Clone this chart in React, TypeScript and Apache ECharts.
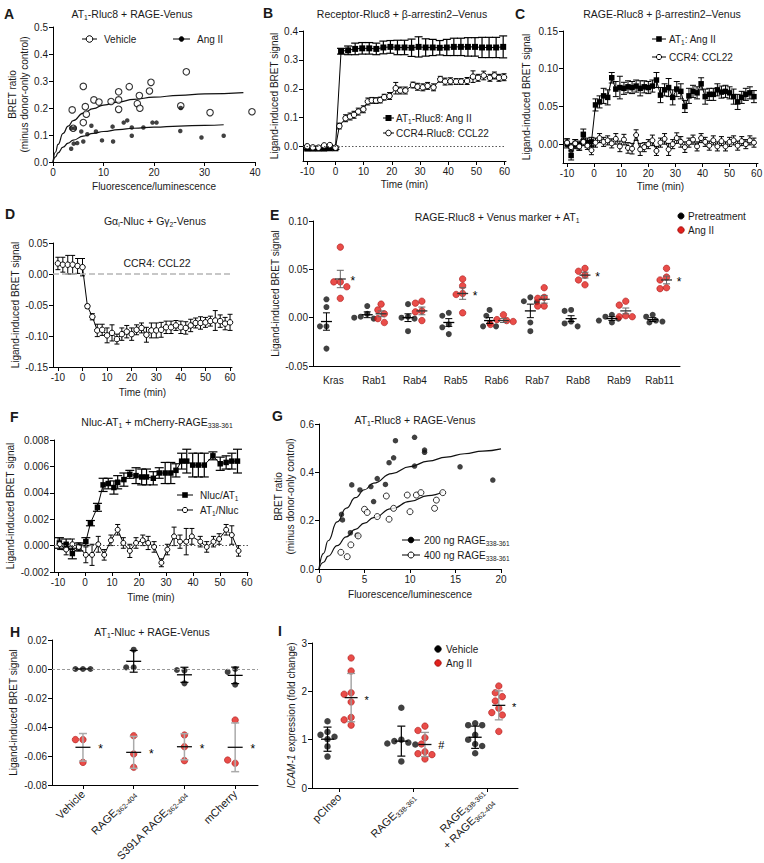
import React, { useEffect, useRef } from "react";
import * as echarts from "echarts";

const FONT = '"Liberation Sans", Arial, Helvetica, sans-serif';
const TXT = "#1a1a1a";
const RED = "#e3211c";
const RED_EDGE = "#a50f0f";

// ---------------- Panel A ----------------
const aVehicleX = [3.8, 4.0, 6.0, 6.0, 6.4, 6.6, 8.1, 9.1, 11.5, 13.0, 13.0, 13.0, 15.1, 16.7, 17.1, 17.2, 19.1, 19.4, 25.3, 26.4, 31.1, 39.4];
const aVehicleY = [0.193, 0.125, 0.28, 0.146, 0.205, 0.177, 0.23, 0.222, 0.224, 0.26, 0.23, 0.195, 0.279, 0.216, 0.246, 0.199, 0.263, 0.295, 0.208, 0.334, 0.183, 0.186];
const aAngX = [3.6, 3.6, 4.3, 4.1, 4.8, 5.6, 6.0, 6.8, 7.6, 8.5, 9.7, 11.8, 11.9, 14.0, 14.7, 15.6, 15.6, 17.9, 19.7, 20.5, 25.2, 25.3, 29.4, 33.8];
const aAngY = [0.049, 0.125, 0.125, 0.068, 0.07, 0.113, 0.076, 0.103, 0.134, 0.113, 0.08, 0.131, 0.076, 0.146, 0.154, 0.128, 0.097, 0.128, 0.146, 0.146, 0.115, 0.2, 0.091, 0.097];
const aVehicleFitX = [0, 0.5, 1, 2, 3, 4, 6, 8, 10, 13, 16, 20, 25, 30, 37.7];
const aVehicleFitY = [0, 0.037, 0.065, 0.106, 0.133, 0.153, 0.181, 0.198, 0.211, 0.223, 0.232, 0.24, 0.247, 0.252, 0.257];
const aAngFitX = [0, 0.5, 1, 2, 3, 4, 6, 8, 10, 13, 16, 20, 25, 30, 33.8];
const aAngFitY = [0, 0.019, 0.034, 0.055, 0.07, 0.081, 0.096, 0.106, 0.113, 0.12, 0.125, 0.129, 0.133, 0.136, 0.138];

// ---------------- Panel B ----------------
const bAtT = [-10, -8, -6, -4, -2, 0, 2, 4.5, 7, 9.5, 12, 14.5, 17, 19.5, 22, 24.5, 27, 29.5, 32, 34.5, 37, 39.5, 42, 44.5, 47, 49.5, 52, 54.5, 57, 59.5];
const bAtV = [-0.007, -0.007, -0.007, -0.007, -0.006, -0.006, 0.33, 0.333, 0.338, 0.34, 0.34, 0.338, 0.343, 0.345, 0.343, 0.343, 0.342, 0.345, 0.343, 0.343, 0.342, 0.343, 0.345, 0.345, 0.345, 0.345, 0.343, 0.343, 0.343, 0.345];
const bAtE = [0.004, 0.004, 0.004, 0.004, 0.004, 0.004, 0.01, 0.015, 0.02, 0.02, 0.02, 0.02, 0.022, 0.022, 0.025, 0.025, 0.03, 0.035, 0.03, 0.028, 0.025, 0.028, 0.03, 0.03, 0.032, 0.032, 0.035, 0.035, 0.035, 0.038];
const bCcT = [-10, -8, -6, -4, -2, 0, 1.4, 3.6, 5.2, 6.6, 8.1, 9.9, 11.5, 12.9, 14.4, 15.9, 17.3, 19.2, 21.4, 23.0, 24.8, 27.5, 29.1, 31.0, 32.7, 34.8, 37.2, 38.9, 40.8, 42.8, 44.6, 46.7, 48.8, 50.6, 52.6, 54.8, 56.4, 58.0, 59.8];
const bCcV = [0.001, -0.003, -0.004, 0.004, 0.005, -0.004, 0.071, 0.098, 0.104, 0.11, 0.121, 0.129, 0.156, 0.16, 0.159, 0.161, 0.171, 0.175, 0.202, 0.194, 0.194, 0.213, 0.207, 0.205, 0.21, 0.205, 0.233, 0.225, 0.226, 0.225, 0.225, 0.227, 0.242, 0.238, 0.246, 0.238, 0.246, 0.238, 0.24];
const bCcE = [0.004, 0.004, 0.004, 0.004, 0.004, 0.004, 0.01, 0.012, 0.012, 0.012, 0.012, 0.012, 0.012, 0.01, 0.01, 0.01, 0.01, 0.012, 0.02, 0.012, 0.012, 0.01, 0.012, 0.012, 0.012, 0.012, 0.01, 0.012, 0.012, 0.01, 0.01, 0.012, 0.02, 0.012, 0.015, 0.012, 0.012, 0.012, 0.012];

// ---------------- Panel C ----------------
const cT = [-10, -8.5, -7, -5.5, -4, -2.5, -1, 0.5, 2, 3.5, 5, 6.5, 8, 9.5, 11, 12.5, 14, 15.5, 17, 18.5, 20, 21.5, 23, 24.5, 26, 27.5, 29, 30.5, 32, 33.5, 35, 36.5, 38, 39.5, 41, 42.5, 44, 45.5, 47, 48.5, 50, 51.5, 53, 54.5, 56, 57.5, 59];
const cAtV = [0.001, -0.015, 0.0, -0.002, 0.013, 0.002, 0.003, 0.052, 0.056, 0.064, 0.062, 0.088, 0.073, 0.075, 0.074, 0.076, 0.075, 0.077, 0.074, 0.076, 0.075, 0.077, 0.085, 0.065, 0.072, 0.075, 0.062, 0.073, 0.07, 0.05, 0.064, 0.07, 0.068, 0.08, 0.063, 0.066, 0.066, 0.072, 0.069, 0.07, 0.068, 0.063, 0.056, 0.062, 0.066, 0.068, 0.063];
const cAtE = [0.006, 0.006, 0.006, 0.006, 0.007, 0.006, 0.006, 0.008, 0.008, 0.01, 0.01, 0.007, 0.01, 0.015, 0.008, 0.008, 0.008, 0.008, 0.01, 0.008, 0.008, 0.008, 0.01, 0.01, 0.008, 0.012, 0.01, 0.01, 0.01, 0.008, 0.01, 0.008, 0.008, 0.008, 0.01, 0.008, 0.008, 0.008, 0.008, 0.008, 0.008, 0.01, 0.01, 0.008, 0.008, 0.008, 0.008];
const cCcV = [0.002, -0.004, 0.001, -0.003, 0.003, -0.002, -0.008, 0.002, 0.008, 0.003, 0.005, 0.001, 0.007, -0.003, 0.006, -0.005, -0.006, 0.012, -0.007, -0.004, 0.0, 0.005, -0.009, 0.002, 0.007, -0.007, 0.0, 0.008, 0.003, -0.004, 0.002, 0.006, -0.003, 0.008, 0.003, -0.002, 0.005, -0.003, 0.004, -0.003, 0.003, 0.005, -0.002, 0.004, 0.0, 0.005, 0.002];
const cCcE = [0.005, 0.005, 0.005, 0.005, 0.005, 0.005, 0.006, 0.006, 0.006, 0.006, 0.006, 0.006, 0.007, 0.007, 0.007, 0.007, 0.007, 0.007, 0.008, 0.006, 0.006, 0.007, 0.006, 0.006, 0.007, 0.008, 0.006, 0.007, 0.007, 0.007, 0.006, 0.006, 0.006, 0.006, 0.006, 0.006, 0.006, 0.006, 0.006, 0.006, 0.006, 0.006, 0.006, 0.006, 0.006, 0.006, 0.006];

// ---------------- Panel D ----------------
const dT = [-10, -8, -6, -4, -2, 0, 2, 4, 6, 8, 10, 12, 14, 16, 18, 20, 22, 24, 26, 28, 30, 32, 34, 36, 38, 40, 42, 44, 46, 48, 50, 52, 54, 56, 58, 60];
const dV = [0.017, 0.015, 0.015, 0.015, 0.013, 0.011, -0.052, -0.069, -0.091, -0.09, -0.099, -0.095, -0.105, -0.097, -0.093, -0.097, -0.09, -0.087, -0.098, -0.091, -0.091, -0.09, -0.086, -0.086, -0.083, -0.086, -0.087, -0.083, -0.079, -0.079, -0.078, -0.076, -0.075, -0.076, -0.08, -0.078];
const dE = [0.01, 0.012, 0.015, 0.015, 0.012, 0.014, 0.003, 0.005, 0.01, 0.009, 0.012, 0.013, 0.008, 0.01, 0.01, 0.01, 0.008, 0.008, 0.012, 0.012, 0.012, 0.012, 0.01, 0.01, 0.008, 0.01, 0.01, 0.01, 0.008, 0.01, 0.008, 0.008, 0.016, 0.01, 0.01, 0.013];

// ---------------- Panel E ----------------
const eCats = ["Kras", "Rab1", "Rab4", "Rab5", "Rab6", "Rab7", "Rab8", "Rab9", "Rab11"];
const ePre = [
  [0.011, 0.019, -0.009, -0.009, -0.032],
  [0.012, 0.004, 0.001, -0.001, 0.0],
  [0.014, 0.001, 0.0, -0.001, -0.014],
  [0.005, 0.002, -0.007, -0.01, -0.017],
  [0.008, 0.002, -0.006, -0.009, -0.009],
  [0.021, 0.017, 0.016, -0.005, -0.014],
  [0.008, 0.007, -0.004, -0.006, -0.009],
  [0.003, 0.001, -0.001, -0.003, -0.005],
  [0.003, 0.001, -0.003, -0.004, -0.005],
];
const ePreMean = [-0.004, 0.003, 0.0, -0.005, -0.003, 0.007, -0.001, -0.001, -0.002];
const ePreSem = [0.009, 0.003, 0.004, 0.004, 0.003, 0.007, 0.003, 0.002, 0.002];
const eAng = [
  [0.073, 0.037, 0.037, 0.032, 0.02],
  [0.014, 0.008, 0.004, -0.001, -0.005],
  [0.017, 0.015, 0.007, 0.006, -0.003],
  [0.04, 0.033, 0.025, 0.024, 0.005],
  [0.003, -0.002, -0.003, -0.004, -0.007],
  [0.031, 0.021, 0.02, 0.012, 0.012],
  [0.051, 0.048, 0.044, 0.039, 0.034],
  [0.017, 0.013, 0.002, 0.001, 0.001],
  [0.051, 0.042, 0.039, 0.031, 0.03],
];
const eAngMean = [0.04, 0.004, 0.007, 0.025, -0.003, 0.019, 0.044, 0.007, 0.039];
const eAngSem = [0.009, 0.003, 0.004, 0.006, 0.002, 0.004, 0.003, 0.003, 0.004];
const eStars = [0, 3, 6, 8];

// ---------------- Panel F ----------------
const fNaT = [-9.5, -7, -4.7, -2.3, 0.3, 2, 4.6, 6.7, 8.6, 10.7, 12.1, 14.4, 16.6, 18.9, 21, 22.8, 25.3, 27.5, 29.7, 31.8, 33.7, 35.8, 37.7, 39.9, 42, 44.2, 47.4, 50.1, 52.3, 54.4, 56.5];
const fNaV = [0.0002, 0.0001, -0.0006, -0.0001, 0.0003, 0.0017, 0.0029, 0.0046, 0.0047, 0.0044, 0.0048, 0.005, 0.0054, 0.0053, 0.0052, 0.0052, 0.0051, 0.0055, 0.0055, 0.0055, 0.0057, 0.0064, 0.0064, 0.0061, 0.0061, 0.0061, 0.0068, 0.0062, 0.0063, 0.0064, 0.0064];
const fNaE = [0.0004, 0.0004, 0.0004, 0.0003, 0.0003, 0.0002, 0.0003, 0.0005, 0.0004, 0.0005, 0.0005, 0.0005, 0.0003, 0.0006, 0.0006, 0.0006, 0.0005, 0.0004, 0.0008, 0.0008, 0.0005, 0.0006, 0.0009, 0.0009, 0.0009, 0.0009, 0.0003, 0.0005, 0.0005, 0.0006, 0.0009];
const fAnT = [-9.4, -7, -4.7, -2.3, 0.3, 2.6, 4.9, 7.1, 9.6, 12.1, 14.2, 16.6, 18.9, 21.4, 23.4, 25.6, 28.3, 30.5, 33, 35.2, 37.5, 39.6, 42.7, 45.1, 47.6, 49.7, 52.3, 54.4, 56.9];
const fAnV = [0.0001, -0.0003, 0.0001, -0.0001, -0.0007, -0.0007, 0.0001, -0.0007, 0.0004, 0.0012, 0.0002, -0.0004, 0.0002, 0.0004, 0.0002, -0.0001, -0.0013, -0.0003, 0.0007, 0.0003, 0.0003, 0.0007, 0.0003, -0.0001, 0.0003, 0.0005, 0.0012, 0.0008, -0.0004];
const fAnE = [0.0004, 0.0004, 0.0004, 0.0003, 0.0006, 0.0008, 0.0006, 0.0004, 0.0004, 0.0004, 0.0004, 0.0005, 0.0004, 0.0004, 0.0005, 0.0004, 0.0003, 0.0004, 0.0007, 0.0005, 0.001, 0.0006, 0.0004, 0.0004, 0.0004, 0.0004, 0.0004, 0.0007, 0.0004];

// ---------------- Panel G ----------------
const g200X = [2.47, 2.58, 3.45, 3.6, 4.2, 4.5, 5.7, 6.0, 6.4, 7.3, 7.7, 8.2, 8.4, 10.5, 10.5, 11.6, 11.6, 15.5, 19.1];
const g200Y = [0.226, 0.203, 0.15, 0.348, 0.14, 0.327, 0.341, 0.279, 0.374, 0.35, 0.44, 0.46, 0.531, 0.545, 0.426, 0.492, 0.483, 0.423, 0.368];
const g400X = [2.4, 3.1, 3.5, 4.3, 5.0, 5.3, 6.4, 7.4, 7.7, 8.2, 9.7, 10.0, 10.7, 11.2, 12.7, 12.9, 13.6];
const g400Y = [0.069, 0.051, 0.1, 0.137, 0.247, 0.234, 0.217, 0.302, 0.206, 0.251, 0.306, 0.237, 0.306, 0.316, 0.251, 0.285, 0.316];
const g200FitX = [0, 0.5, 1, 2, 3, 4, 5, 6, 8, 10, 12, 14, 16, 18, 20];
const g200FitY = [0, 0.065, 0.117, 0.195, 0.252, 0.295, 0.328, 0.355, 0.395, 0.424, 0.446, 0.463, 0.477, 0.488, 0.497];
const g400FitX = [0, 0.5, 1, 2, 3, 4, 5, 6, 8, 10, 12, 13.6];
const g400FitY = [0, 0.028, 0.053, 0.097, 0.133, 0.164, 0.19, 0.213, 0.25, 0.28, 0.304, 0.32];

// ---------------- Panel H ----------------
const hLabels = ["Vehicle", "RAGE_{362-404}", "S391A RAGE_{362-404}", "mCherry"];
const hPre = [
  [0, 0, 0],
  [0.0133, 0.0011, 0.0011],
  [-0.0099, -0.0011, -0.0007],
  [-0.0108, 0, -0.002],
];
const hPreMean = [0, 0.0053, -0.004, -0.0044];
const hPreSd = [0, 0.0075, 0.0052, 0.0057];
const hAng = [
  [-0.0644, -0.0487, -0.0487],
  [-0.046, -0.0586, -0.0678],
  [-0.0455, -0.0536, -0.0632],
  [-0.0352, -0.065, -0.0628],
];
const hAngMean = [-0.054, -0.0575, -0.0536, -0.054];
const hAngSd = [0.0095, 0.011, 0.009, 0.0168];

// ---------------- Panel I ----------------
const iLabels = ["pCIneo", "RAGE_{338-361}", "RAGE_{338-361}\n+ RAGE_{362-404}"];
const iVehicle = [
  [1.38, 1.16, 1.1, 1.06, 1.01, 0.86, 0.65],
  [1.66, 1.0, 0.97, 0.94, 0.92, 0.9, 0.55],
  [1.34, 1.3, 1.3, 1.1, 1.0, 0.91, 0.87, 0.72],
];
const iVehicleMean = [1.01, 0.97, 1.05];
const iVehicleSd = [0.25, 0.31, 0.23];
const iAng = [
  [2.69, 2.42, 1.97, 1.94, 1.78, 1.46, 1.41, 1.3],
  [1.28, 1.19, 1.04, 0.91, 0.75, 0.71, 0.69, 0.6],
  [2.11, 1.97, 1.89, 1.8, 1.65, 1.56, 1.51, 1.17],
];
const iAngMean = [1.87, 0.9, 1.71];
const iAngSd = [0.5, 0.25, 0.3];
const iMarks = ["*", "#", "*"];

// ---------------- helpers ----------------
const GRIDS = [
  { left: 53, top: 27, width: 202, height: 135 },
  { left: 303, top: 31, width: 203, height: 130 },
  { left: 563, top: 31, width: 195, height: 132 },
  { left: 53, top: 243, width: 179, height: 124 },
  { left: 313, top: 221, width: 367, height: 145 },
  { left: 54, top: 440, width: 194, height: 132 },
  { left: 319, top: 424, width: 182, height: 145 },
  { left: 52, top: 640, width: 206, height: 145 },
  { left: 312, top: 643, width: 206, height: 145 },
];

function toRich(str: string): string {
  return str
    .split("\n")
    .map((line) => {
      const parts = line.split(/_\{([^}]*)\}/);
      return parts.map((p, i) => (p === "" ? "" : i % 2 ? `{s|${p}}` : `{n|${p}}`)).join("");
    })
    .join("\n");
}

function richStyles(size: number, useFill: boolean, weight = "normal") {
  const c = useFill ? { fill: TXT } : { color: TXT };
  return {
    n: { fontSize: size, fontFamily: FONT, fontWeight: weight, lineHeight: size + 3, ...c },
    s: { fontSize: Math.round(size * 0.65 * 10) / 10, fontFamily: FONT, lineHeight: 8, verticalAlign: "bottom", ...c },
    i: { fontSize: size, fontFamily: FONT, fontStyle: "italic", lineHeight: size + 3, ...c },
  };
}

function textEl(x: number, y: number, str: string, size: number, align = "center", weight = "normal") {
  return {
    type: "text",
    x,
    y,
    silent: true,
    style: {
      text: toRich(str),
      rich: richStyles(size, true, weight),
      fontSize: size,
      fontFamily: FONT,
      fontWeight: weight,
      fill: TXT,
      align,
      verticalAlign: "middle",
    },
  };
}

function legendEntry(x1: number, x2: number, y: number, mark: string, r: number, textX: number, label: string, withLine = true) {
  const els: any[] = [];
  const cx = (x1 + x2) / 2;
  if (withLine) els.push({ type: "line", silent: true, shape: { x1, y1: y, x2, y2: y }, style: { stroke: "#000", lineWidth: 1 } });
  if (mark === "square") {
    els.push({ type: "rect", silent: true, shape: { x: cx - r, y: y - r, width: 2 * r, height: 2 * r }, style: { fill: "#000" } });
  } else {
    els.push({
      type: "circle",
      silent: true,
      shape: { cx, cy: y, r },
      style: {
        fill: mark === "open" ? "#fff" : mark === "red" ? RED : "#000",
        stroke: mark === "red" ? RED_EDGE : "#000",
        lineWidth: 1,
      },
    });
  }
  els.push(textEl(textX, y, label, 10, "left"));
  return els;
}

function vAxis(g: number, min: number, max: number, ticks: number[], fmt: (v: number) => string, extra: any = {}) {
  const { labelExtra, tickShow, ...rest } = extra;
  return {
    type: "value",
    gridIndex: g,
    min,
    max,
    axisLine: { show: true, onZero: false, lineStyle: { color: "#000", width: 1 } },
    axisTick: { show: tickShow !== false, customValues: ticks, length: 4, lineStyle: { color: "#000", width: 1 } },
    axisLabel: { show: true, customValues: ticks, formatter: fmt, fontSize: 10, color: TXT, fontFamily: FONT, margin: 5, ...(labelExtra || {}) },
    splitLine: { show: false },
    nameLocation: "middle",
    nameTextStyle: { fontSize: 10, color: TXT, fontFamily: FONT, lineHeight: 12 },
    ...rest,
  };
}

const zip = (xs: number[], ys: number[]) => xs.map((x, i) => [x, ys[i]]);

function errSeries(g: number, xs: number[], ys: number[], es: number[], cap: number, color = "#000", lw = 1) {
  return {
    type: "custom",
    xAxisIndex: g,
    yAxisIndex: g,
    z: 2,
    silent: true,
    data: xs.map((x, i) => [x, ys[i], es[i]]),
    renderItem: (_p: any, api: any) => {
      const x = api.value(0);
      const y = api.value(1);
      const e = api.value(2);
      const t = api.coord([x, y + e]);
      const b = api.coord([x, y - e]);
      const h = cap / 2;
      const st = { stroke: color, lineWidth: lw };
      return {
        type: "group",
        children: [
          { type: "line", shape: { x1: t[0], y1: t[1], x2: b[0], y2: b[1] }, style: st },
          { type: "line", shape: { x1: t[0] - h, y1: t[1], x2: t[0] + h, y2: t[1] }, style: st },
          { type: "line", shape: { x1: b[0] - h, y1: b[1], x2: b[0] + h, y2: b[1] }, style: st },
        ],
      };
    },
  };
}

function meanSeries(g: number, xs: number[], means: number[], errs: number[], meanW: number, cap: number, barColor: string, meanColor: string, barW = 1) {
  return {
    type: "custom",
    xAxisIndex: g,
    yAxisIndex: g,
    z: 5,
    silent: true,
    data: xs.map((x, i) => [x, means[i], errs[i]]),
    renderItem: (_p: any, api: any) => {
      const x = api.value(0);
      const y = api.value(1);
      const e = api.value(2);
      const m = api.coord([x, y]);
      const t = api.coord([x, y + e]);
      const b = api.coord([x, y - e]);
      const st = { stroke: barColor, lineWidth: barW };
      const children: any[] = [];
      if (e > 0) {
        children.push({ type: "line", shape: { x1: t[0], y1: t[1], x2: b[0], y2: b[1] }, style: st });
        children.push({ type: "line", shape: { x1: t[0] - cap / 2, y1: t[1], x2: t[0] + cap / 2, y2: t[1] }, style: st });
        children.push({ type: "line", shape: { x1: b[0] - cap / 2, y1: b[1], x2: b[0] + cap / 2, y2: b[1] }, style: st });
      }
      children.push({ type: "line", shape: { x1: m[0] - meanW / 2, y1: m[1], x2: m[0] + meanW / 2, y2: m[1] }, style: { stroke: meanColor, lineWidth: 1.3 } });
      return { type: "group", children };
    },
  };
}

function markSeries(g: number, xs: number[], ys: number[], texts: string[], size: number) {
  return {
    type: "custom",
    xAxisIndex: g,
    yAxisIndex: g,
    z: 6,
    silent: true,
    data: xs.map((x, i) => [x, ys[i], i]),
    renderItem: (_p: any, api: any) => {
      const c = api.coord([api.value(0), api.value(1)]);
      const t = texts[api.value(2)];
      return {
        type: "text",
        x: c[0],
        y: c[1] + (t === "*" ? 2 : 0),
        style: { text: t, fontSize: size, fontFamily: FONT, fill: "#000", align: "left", verticalAlign: "middle" },
      };
    },
  };
}

// simple beeswarm layout (pixel space) for dot columns
function swarm(values: number[], center: number, pxX: number, pxY: number, d: number) {
  const placed: number[][] = [];
  const cands = [0, -0.5, 0.5, -1, 1, -1.5, 1.5, -2, 2, -2.5, 2.5];
  return values.map((v) => {
    const py = v * pxY;
    let chosen = 0;
    for (const c of cands) {
      const px = c * d;
      if (placed.every(([qx, qy]) => Math.hypot(qx - px, qy - py) >= d)) {
        chosen = px;
        break;
      }
    }
    placed.push([chosen, py]);
    return [center + chosen / pxX, v];
  });
}

function lineSeries(g: number, xs: number[], ys: number[], symbol: string, size: number, open: boolean, extra: any = {}) {
  return {
    type: "line",
    xAxisIndex: g,
    yAxisIndex: g,
    z: 3,
    silent: true,
    data: zip(xs, ys),
    symbol,
    symbolSize: size,
    showSymbol: true,
    showAllSymbol: true,
    itemStyle: open ? { color: "#fff", borderColor: "#000", borderWidth: 1 } : { color: "#000", borderColor: "#000", borderWidth: 0 },
    lineStyle: { color: "#000", width: 1 },
    ...extra,
  };
}

function zeroLine(type: any, color: string, width = 1) {
  return {
    silent: true,
    symbol: ["none", "none"],
    label: { show: false },
    lineStyle: { type, color, width },
    data: [{ yAxis: 0 }],
  };
}

function buildOption() {
  const f1 = (v: number) => v.toFixed(1);
  const f2 = (v: number) => v.toFixed(2);
  const f3 = (v: number) => v.toFixed(3);
  const f0 = (v: number) => String(v);
  const timeTicks = [-10, 0, 10, 20, 30, 40, 50, 60];
  const richAxis = richStyles(10, false);
  const richRot = richStyles(11, false);

  const xAxis = [
    vAxis(0, 0, 40, [0, 10, 20, 30, 40], f0, { name: "Fluorescence/luminescence", nameGap: 18 }),
    vAxis(1, -11.5, 60.5, timeTicks, f0, { name: "Time (min)", nameGap: 17 }),
    vAxis(2, -11.5, 60.5, timeTicks, f0, { name: "Time (min)", nameGap: 17 }),
    vAxis(3, -12, 60.8, timeTicks, f0, { name: "Time (min)", nameGap: 19 }),
    vAxis(4, -0.5, 8.5, [0, 1, 2, 3, 4, 5, 6, 7, 8], (v: number) => eCats[Math.round(v)], { tickShow: false, labelExtra: { margin: 9 } }),
    vAxis(5, -11.5, 60.4, timeTicks, f0, { name: "Time (min)", nameGap: 19 }),
    vAxis(6, 0, 20, [0, 5, 10, 15, 20], f0, { name: "Fluorescence/luminescence", nameGap: 19 }),
    vAxis(7, 0.39, 4.45, [1, 2, 3, 4], (v: number) => toRich(hLabels[Math.round(v) - 1]), {
      labelExtra: { rotate: 45, margin: 7, fontSize: 11, rich: richRot },
    }),
    vAxis(8, 0.63, 3.42, [1, 2, 3], (v: number) => toRich(iLabels[Math.round(v) - 1]), {
      labelExtra: { rotate: 45, margin: 7, fontSize: 11, rich: richRot },
    }),
  ];

  const yAxis = [
    vAxis(0, 0, 0.5, [0, 0.1, 0.2, 0.3, 0.4, 0.5], f1, { name: "BRET ratio\n(minus donor-only control)", nameGap: 21, nameRotate: 90 }),
    vAxis(1, -0.05, 0.4, [0, 0.1, 0.2, 0.3, 0.4], f1, { name: "Ligand-induced BRET signal", nameGap: 22, nameRotate: 90 }),
    vAxis(2, -0.025, 0.15, [0, 0.05, 0.1, 0.15], f2, { name: "Ligand-induced BRET signal", nameGap: 31, nameRotate: 90 }),
    vAxis(3, -0.15, 0.05, [-0.15, -0.1, -0.05, 0, 0.05], f2, { name: "Ligand-induced BRET signal", nameGap: 32, nameRotate: 90 }),
    vAxis(4, -0.05, 0.1, [-0.05, 0, 0.05, 0.1], f2, { name: "Ligand-induced BRET signal", nameGap: 30, nameRotate: 90 }),
    vAxis(5, -0.002, 0.008, [-0.002, 0, 0.002, 0.004, 0.006, 0.008], f3, { name: "Ligand-induced BRET signal", nameGap: 33, nameRotate: 90 }),
    vAxis(6, 0, 0.6, [0, 0.2, 0.4, 0.6], f1, { name: "BRET ratio\n(minus donor-only control)", nameGap: 19, nameRotate: 90 }),
    vAxis(7, -0.08, 0.02, [-0.08, -0.06, -0.04, -0.02, 0, 0.02], f2, { name: "Ligand-induced BRET signal", nameGap: 33, nameRotate: 90 }),
    vAxis(8, 0, 3, [0, 1, 2, 3], f0, {
      name: "{i|ICAM-1}{n| expression (fold change)}",
      nameGap: 14,
      nameRotate: 90,
      nameTextStyle: { fontSize: 10, color: TXT, fontFamily: FONT, rich: richAxis },
    }),
  ];

  const series: any[] = [];

  // A
  series.push({ type: "line", xAxisIndex: 0, yAxisIndex: 0, z: 2, silent: true, data: zip(aVehicleFitX, aVehicleFitY), smooth: true, smoothMonotone: "x", showSymbol: false, lineStyle: { color: "#111", width: 1.2 } });
  series.push({ type: "line", xAxisIndex: 0, yAxisIndex: 0, z: 2, silent: true, data: zip(aAngFitX, aAngFitY), smooth: true, smoothMonotone: "x", showSymbol: false, lineStyle: { color: "#111", width: 1.2 } });
  series.push({ type: "scatter", xAxisIndex: 0, yAxisIndex: 0, z: 4, silent: true, data: zip(aVehicleX, aVehicleY), symbolSize: 6.5, itemStyle: { color: "#fff", borderColor: "#000", borderWidth: 1.1 } });
  series.push({ type: "scatter", xAxisIndex: 0, yAxisIndex: 0, z: 5, silent: true, data: zip(aAngX, aAngY), symbolSize: 4.5, itemStyle: { color: "#111" } });

  // B
  series.push(errSeries(1, bAtT, bAtV, bAtE, 8, "#000", 1.2));
  series.push(errSeries(1, bCcT, bCcV, bCcE, 5));
  series.push(lineSeries(1, bAtT, bAtV, "rect", 6, false, { markLine: zeroLine([1.5, 2], "#555") }));
  series.push(lineSeries(1, bCcT, bCcV, "circle", 5.5, true, { z: 4 }));

  // C
  series.push(errSeries(2, cT, cAtV, cAtE, 6));
  series.push(errSeries(2, cT, cCcV, cCcE, 5));
  series.push(lineSeries(2, cT, cAtV, "rect", 5.5, false));
  series.push(lineSeries(2, cT, cCcV, "circle", 5, true, { z: 4 }));

  // D
  series.push(errSeries(3, dT, dV, dE, 5));
  series.push(lineSeries(3, dT, dV, "circle", 5.5, true, { markLine: zeroLine("dashed", "#b5b5b5", 1.5) }));

  // E
  const ePxX = GRIDS[4].width / 9;
  const ePxY = GRIDS[4].height / 0.15;
  const ePreDots: number[][] = [];
  const eAngDots: number[][] = [];
  ePre.forEach((vals, i) => ePreDots.push(...swarm(vals, i - 0.17, ePxX, ePxY, 6.5)));
  eAng.forEach((vals, i) => eAngDots.push(...swarm(vals, i + 0.17, ePxX, ePxY, 6.5)));
  series.push({ type: "scatter", xAxisIndex: 4, yAxisIndex: 4, z: 4, silent: true, data: ePreDots, symbolSize: 6, itemStyle: { color: "#111" } });
  series.push({ type: "scatter", xAxisIndex: 4, yAxisIndex: 4, z: 4, silent: true, data: eAngDots, symbolSize: 6.5, itemStyle: { color: RED, borderColor: RED_EDGE, borderWidth: 0.7 } });
  series.push(meanSeries(4, eCats.map((_, i) => i - 0.17), ePreMean, ePreSem, 11, 7, "#000", "#000"));
  series.push(meanSeries(4, eCats.map((_, i) => i + 0.17), eAngMean, eAngSem, 11, 7, "#666", "#333"));
  series.push(markSeries(4, eStars.map((i) => i + 0.42), eStars.map((i) => eAngMean[i]), eStars.map(() => "*"), 12));

  // F
  series.push(errSeries(5, fNaT, fNaV, fNaE, 9, "#000", 1.2));
  series.push(errSeries(5, fAnT, fAnV, fAnE, 5));
  series.push(lineSeries(5, fNaT, fNaV, "rect", 5.5, false, { markLine: zeroLine([1.5, 2], "#555") }));
  series.push(lineSeries(5, fAnT, fAnV, "circle", 5, true, { z: 4 }));

  // G
  series.push({ type: "line", xAxisIndex: 6, yAxisIndex: 6, z: 2, silent: true, data: zip(g200FitX, g200FitY), smooth: true, smoothMonotone: "x", showSymbol: false, lineStyle: { color: "#111", width: 1.2 } });
  series.push({ type: "line", xAxisIndex: 6, yAxisIndex: 6, z: 2, silent: true, data: zip(g400FitX, g400FitY), smooth: true, smoothMonotone: "x", showSymbol: false, lineStyle: { color: "#111", width: 1.2 } });
  series.push({ type: "scatter", xAxisIndex: 6, yAxisIndex: 6, z: 4, silent: true, data: zip(g200X, g200Y), symbolSize: 5.5, itemStyle: { color: "#111" } });
  series.push({ type: "scatter", xAxisIndex: 6, yAxisIndex: 6, z: 5, silent: true, data: zip(g400X, g400Y), symbolSize: 6, itemStyle: { color: "#fff", borderColor: "#000", borderWidth: 1 } });

  // H
  const hPxX = GRIDS[7].width / (4.45 - 0.39);
  const hPxY = GRIDS[7].height / 0.1;
  const hPreDots: number[][] = [];
  const hAngDots: number[][] = [];
  hPre.forEach((vals, i) => hPreDots.push(...swarm(vals, i + 1, hPxX, hPxY, 7.5)));
  hAng.forEach((vals, i) => hAngDots.push(...swarm(vals, i + 1, hPxX, hPxY, 7.5)));
  const hAngBars: any = meanSeries(7, hLabels.map((_, i) => i + 1), hAngMean, hAngSd, 15, 8, "#aaa", "#111", 1.5);
  hAngBars.markLine = zeroLine([3, 2], "#999", 1);
  series.push(hAngBars);
  series.push(meanSeries(7, hLabels.map((_, i) => i + 1), hPreMean, hPreSd, 15, 8, "#000", "#000", 1.2));
  series.push({ type: "scatter", xAxisIndex: 7, yAxisIndex: 7, z: 4, silent: true, data: hPreDots, symbolSize: 6, itemStyle: { color: "#111" } });
  series.push({ type: "scatter", xAxisIndex: 7, yAxisIndex: 7, z: 4, silent: true, data: hAngDots, symbolSize: 6.5, itemStyle: { color: RED, borderColor: RED_EDGE, borderWidth: 0.7 } });
  series.push(markSeries(7, hLabels.map((_, i) => i + 1.3), hAngMean, hLabels.map(() => "*"), 12));

  // I
  const iPxX = GRIDS[8].width / (3.42 - 0.63);
  const iPxY = GRIDS[8].height / 3;
  const iVehDots: number[][] = [];
  const iAngDots: number[][] = [];
  iVehicle.forEach((vals, i) => iVehDots.push(...swarm(vals, i + 1 - 0.16, iPxX, iPxY, 7)));
  iAng.forEach((vals, i) => iAngDots.push(...swarm(vals, i + 1 + 0.16, iPxX, iPxY, 7)));
  series.push(meanSeries(8, iLabels.map((_, i) => i + 1 - 0.16), iVehicleMean, iVehicleSd, 13, 8, "#000", "#000", 1.2));
  series.push(meanSeries(8, iLabels.map((_, i) => i + 1 + 0.16), iAngMean, iAngSd, 13, 8, "#999", "#111", 1.3));
  series.push({ type: "scatter", xAxisIndex: 8, yAxisIndex: 8, z: 4, silent: true, data: iVehDots, symbolSize: 6.5, itemStyle: { color: "#111" } });
  series.push({ type: "scatter", xAxisIndex: 8, yAxisIndex: 8, z: 4, silent: true, data: iAngDots, symbolSize: 6.5, itemStyle: { color: RED, borderColor: RED_EDGE, borderWidth: 0.7 } });
  series.push(markSeries(8, iLabels.map((_, i) => i + 1.34), iAngMean, iMarks, 11));

  // ---------- texts and legends ----------
  const graphic: any[] = [];
  const letters: [string, number, number][] = [
    ["A", 4, 14], ["B", 263, 13], ["C", 515, 14], ["D", 5, 214], ["E", 270, 215],
    ["F", 10, 417], ["G", 272, 416], ["H", 10, 632], ["I", 278, 631],
  ];
  letters.forEach(([t, x, y]) => graphic.push(textEl(x, y, t, 14, "left", "bold")));
  const titles: [string, number, number][] = [
    ["AT_{1}-Rluc8 + RAGE-Venus", 132, 14],
    ["Receptor-Rluc8 + β-arrestin2–Venus", 402, 14],
    ["RAGE-Rluc8 + β-arrestin2–Venus", 662, 14],
    ["Gα_{i}-Nluc + Gγ_{2}-Venus", 155, 221],
    ["RAGE-Rluc8 + Venus marker + AT_{1}", 497, 217],
    ["Nluc-AT_{1} + mCherry-RAGE_{338-361}", 157, 422],
    ["AT_{1}-Rluc8 + RAGE-Venus", 415, 420],
    ["AT_{1}-Nluc + RAGE-Venus", 152, 632],
  ];
  titles.forEach(([t, x, y]) => graphic.push(textEl(x, y, t, 10.5, "center")));
  graphic.push(textEl(157, 263, "CCR4: CCL22", 10.5, "center"));

  graphic.push(...legendEntry(82, 97, 39, "open", 3.3, 104, "Vehicle"));
  graphic.push(...legendEntry(173, 190, 39, "black", 2.3, 197, "Ang II"));
  graphic.push(...legendEntry(383, 394, 118, "square", 3, 396, "AT_{1}-Rluc8: Ang II"));
  graphic.push(...legendEntry(383, 394, 133, "open", 2.8, 396, "CCR4-Rluc8: CCL22"));
  graphic.push(...legendEntry(652, 666, 39, "square", 2.8, 669, "AT_{1}: Ang II"));
  graphic.push(...legendEntry(652, 666, 57, "open", 2.6, 669, "CCR4: CCL22"));
  graphic.push(...legendEntry(681, 681, 216, "black", 3, 688, "Pretreatment", false));
  graphic.push(...legendEntry(681, 681, 230, "red", 3.2, 688, "Ang II", false));
  graphic.push(...legendEntry(177, 193, 495, "square", 2.8, 200, "Nluc/AT_{1}"));
  graphic.push(...legendEntry(177, 193, 510, "open", 2.6, 200, "AT_{1}/Nluc"));
  graphic.push(...legendEntry(402, 420, 540, "black", 2.8, 424, "200 ng RAGE_{338-361}"));
  graphic.push(...legendEntry(402, 420, 555, "open", 3, 424, "400 ng RAGE_{338-361}"));
  graphic.push(...legendEntry(438, 438, 649, "black", 3.2, 446, "Vehicle", false));
  graphic.push(...legendEntry(438, 438, 663, "red", 3.2, 446, "Ang II", false));

  return {
    animation: false,
    backgroundColor: "#fff",
    textStyle: { fontFamily: FONT },
    grid: GRIDS.map((g) => ({ ...g, containLabel: false, outerBoundsMode: "none" })),
    xAxis,
    yAxis,
    series,
    graphic: { elements: graphic },
  };
}

export default function App() {
  const ref = useRef<HTMLDivElement>(null);
  useEffect(() => {
    document.body.style.margin = "0";
    const chart = echarts.init(ref.current as HTMLDivElement, undefined, { renderer: "svg", width: 764, height: 863 });
    chart.setOption(buildOption() as any);
    return () => chart.dispose();
  }, []);
  return <div ref={ref} style={{ width: 764, height: 863 }} />;
}
